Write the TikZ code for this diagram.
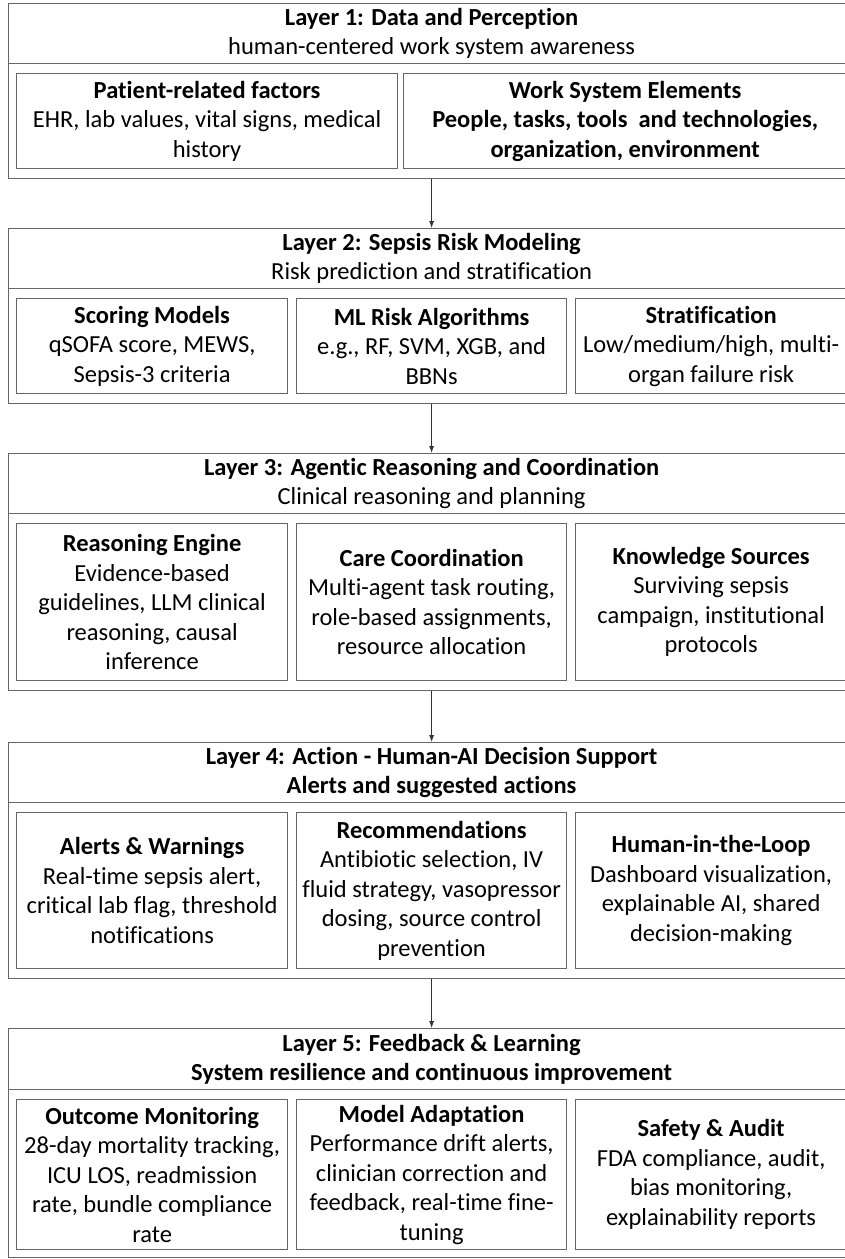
\documentclass[tikz,border=0pt]{standalone}
\usepackage{fontspec}
\setmainfont{Carlito}[Ligatures={NoCommon,NoRequired,NoContextual}]
\usetikzlibrary{arrows.meta}
\newcommand{\layerfont}{\fontsize{24.5}{29.5}\selectfont}
\tikzset{
  layerhead/.style={draw=black!60, line width=1.2pt, anchor=north west, inner sep=0pt,
    minimum width=846pt, minimum height=60pt, align=center, font=\layerfont},
  layerbody/.style={draw=black!60, line width=1.2pt, anchor=north west, inner sep=0pt,
    minimum width=846pt},
  part/.style={draw=black!60, line width=1.2pt, anchor=north west, inner sep=0pt,
    minimum width=271pt, align=center, font=\layerfont},
  flow/.style={draw=black!80, line width=0.8pt, -{Latex[length=7pt,width=5pt]}}
}
\begin{document}
\begin{tikzpicture}[x=1pt,y=-1pt]
  \useasboundingbox (0,0) rectangle (844,1259);
  \node[layerhead] (h1) at (8,3) {\textbf{Layer 1: Data and Perception}\\human-centered work system awareness};
  \node[layerbody, minimum height=115pt] (b1) at (8,63) {};
  \node[part, minimum width=381pt, minimum height=95pt] (patient) at (16,73)
    {\textbf{Patient-related factors}\\EHR, lab values, vital signs, medical\\history};
  \node[part, minimum width=443pt, minimum height=95pt, font=\layerfont\bfseries] (worksys) at (403,73)
    {Work System Elements\\People, tasks, tools\ \ and technologies,\\organization, environment};

  \node[layerhead] (h2) at (8,228) {\textbf{Layer 2: Sepsis Risk Modeling}\\Risk prediction and stratification};
  \node[layerbody, minimum height=115pt] (b2) at (8,288) {};
  \node[part, minimum height=95pt] (scoring) at (16,298)
    {\textbf{Scoring Models}\\qSOFA score, MEWS,\\Sepsis-3 criteria};
  \node[part, minimum width=270pt, minimum height=95pt] (mlrisk) at (296,298)
    {\textbf{ML Risk Algorithms}\\e.g., RF, SVM, XGB, and\\BBNs};
  \node[part, minimum height=95pt] (strat) at (575,298)
    {\textbf{Stratification}\\Low/medium/high, multi-\\organ failure risk};

  \node[layerhead] (h3) at (8,453) {\textbf{Layer 3: Agentic Reasoning and Coordination}\\Clinical reasoning and planning};
  \node[layerbody, minimum height=177pt] (b3) at (8,513) {};
  \node[part, minimum height=157pt] (reasoning) at (16,523)
    {\textbf{Reasoning Engine}\\Evidence-based\\guidelines, LLM clinical\\reasoning, causal\\inference};
  \node[part, minimum width=270pt, minimum height=157pt] (carecoord) at (296,523)
    {\textbf{Care Coordination}\\Multi-agent task routing,\\role-based assignments,\\resource allocation};
  \node[part, minimum height=157pt] (knowledge) at (575,523)
    {\textbf{Knowledge Sources}\\Surviving sepsis\\campaign, institutional\\protocols};

  \node[layerhead, font=\layerfont\bfseries] (h4) at (8,742) {Layer 4: Action - Human-AI Decision Support\\Alerts and suggested actions};
  \node[layerbody, minimum height=176pt] (b4) at (8,802) {};
  \node[part, minimum height=156pt] (alerts) at (16,812)
    {\textbf{Alerts \& Warnings}\\Real-time sepsis alert,\\critical lab flag, threshold\\notifications};
  \node[part, minimum width=270pt, minimum height=156pt] (recommend) at (296,812)
    {\textbf{Recommendations}\\Antibiotic selection, IV\\fluid strategy, vasopressor\\dosing, source control\\prevention};
  \node[part, minimum height=156pt] (hitl) at (575,812)
    {\textbf{Human-in-the-Loop}\\Dashboard visualization,\\explainable AI, shared\\decision-making};

  \node[layerhead, minimum height=61pt, font=\layerfont\bfseries] (h5) at (8,1028) {Layer 5: Feedback \& Learning\\System resilience and continuous improvement};
  \node[layerbody, minimum height=168pt] (b5) at (8,1089) {};
  \node[part, minimum height=150pt] (outcome) at (16,1099)
    {\textbf{Outcome Monitoring}\\28-day mortality tracking,\\ICU LOS, readmission\\rate, bundle compliance\\rate};
  \node[part, minimum width=270pt, minimum height=150pt] (adapt) at (296,1099)
    {\textbf{Model Adaptation}\\Performance drift alerts,\\clinician correction and\\feedback, real-time fine-\\tuning};
  \node[part, minimum height=150pt] (safety) at (575,1099)
    {\textbf{Safety \& Audit}\\FDA compliance, audit,\\bias monitoring,\\explainability reports};

  \draw[flow] (b1.south) -- (h2.north);
  \draw[flow] (b2.south) -- (h3.north);
  \draw[flow] (b3.south) -- (h4.north);
  \draw[flow] (b4.south) -- (h5.north);
\end{tikzpicture}
\end{document}
